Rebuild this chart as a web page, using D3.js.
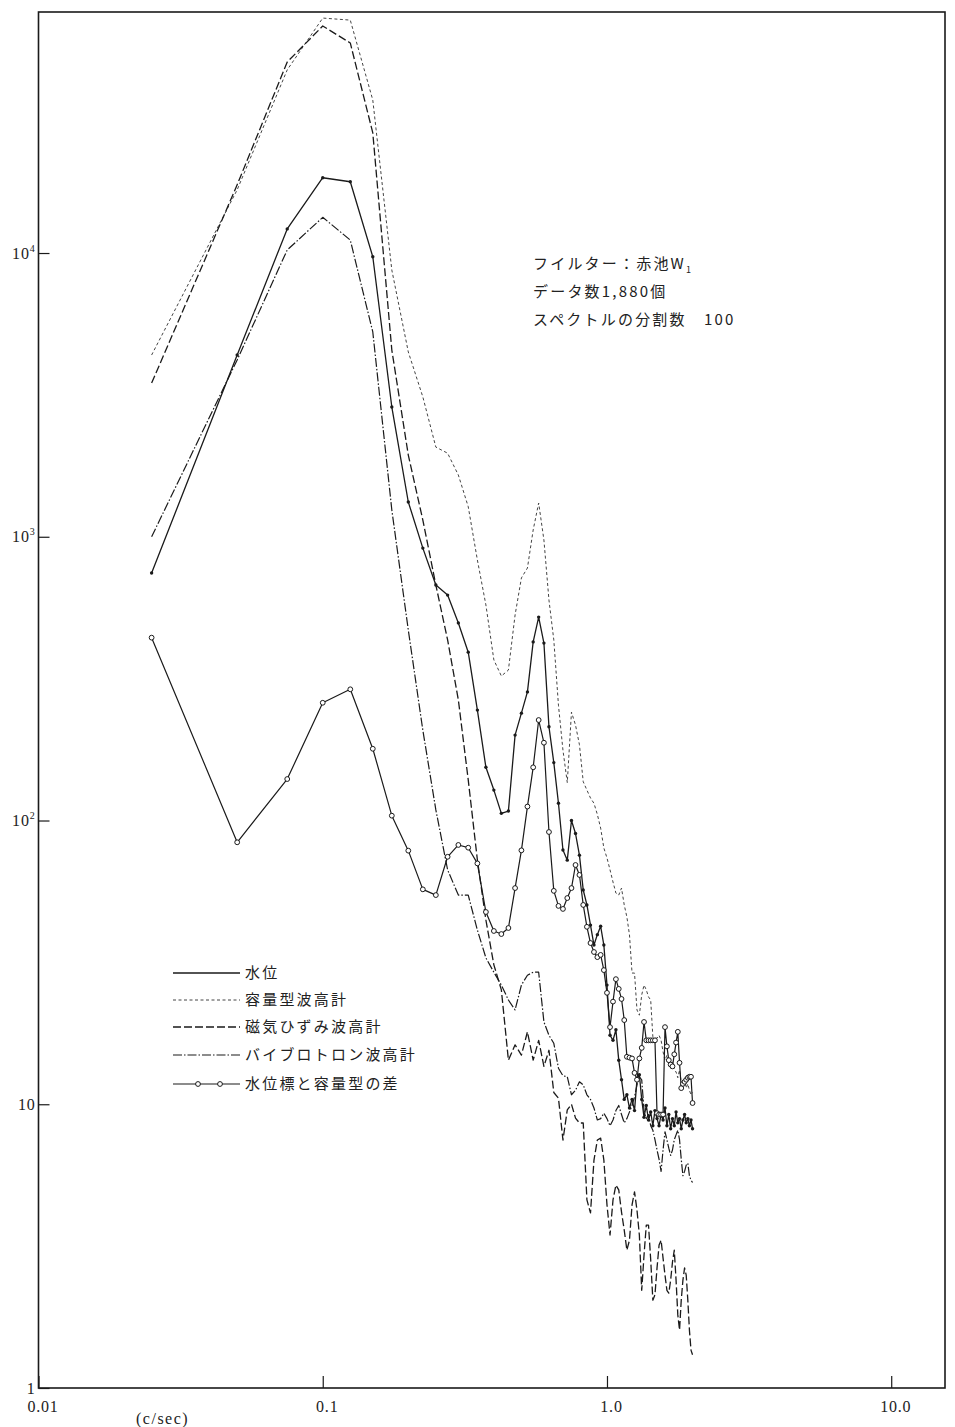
<!DOCTYPE html>
<html>
<head>
<meta charset="utf-8">
<script src="https://cdnjs.cloudflare.com/ajax/libs/d3/7.8.5/d3.min.js"></script>
<style>
  body { margin: 0; background: #fff; }
  .num { font-family: "Liberation Serif", "DejaVu Serif", serif; font-size: 16px; fill: #222; letter-spacing: 0.8px; }
  .jp { font-family: "Noto Sans CJK JP", sans-serif; font-size: 15px; fill: #222; letter-spacing: 2.2px; }
</style>
</head>
<body>
<div id="chart"></div>
<script>
// frequency (c/sec), 100 lags, step 0.025
const freq = [
  0.025, 0.05, 0.075, 0.1, 0.125, 0.15, 0.175, 0.2, 0.225, 0.25,
  0.275, 0.3, 0.325, 0.35, 0.375, 0.4, 0.425, 0.45, 0.475, 0.5,
  0.525, 0.55, 0.575, 0.6, 0.625, 0.65, 0.675, 0.7, 0.725, 0.75,
  0.775, 0.8, 0.825, 0.85, 0.875, 0.9, 0.925, 0.95, 0.975, 1.0,
  1.025, 1.05, 1.075, 1.1, 1.125, 1.15, 1.175, 1.2, 1.225, 1.25,
  1.275, 1.3, 1.325, 1.35, 1.375, 1.4, 1.425, 1.45, 1.475, 1.5,
  1.525, 1.55, 1.575, 1.6, 1.625, 1.65, 1.675, 1.7, 1.725, 1.75,
  1.775, 1.8, 1.825, 1.85, 1.875, 1.9, 1.925, 1.95, 1.975, 2.0
];

// 水位
const suii = [
  745, 4370, 12160, 18420, 17830, 9700, 2866, 1326, 912, 676,
  623, 497, 392, 245, 154, 128, 106, 108, 200, 239,
  284, 426, 521, 422, 214, 160, 115, 78.7, 72.5, 100,
  90, 75.5, 56.9, 50.4, 42.8, 36.4, 39.6, 42.4, 36.4, 26.3,
  17.5, 16.8, 18.3, 14.3, 12.2, 10.4, 10.8, 9.7, 10.4, 9.5,
  12.2, 12.7, 10.4, 9.0, 9.9, 8.8, 9.4, 8.4, 9.5, 8.9,
  8.4, 9.2, 8.8, 9.7, 8.4, 9.2, 8.2, 8.9, 8.4, 9.4,
  8.6, 8.9, 8.2, 8.8, 9.2, 8.6, 8.9, 8.4, 8.8, 8.2
];

// 容量型波高計
const youryou = [
  4370, 16700, 44200, 67300, 66200, 34600, 8710, 4480, 3110, 2070,
  1970, 1650, 1276, 828, 575, 368, 323, 339, 530, 716,
  776, 1057, 1315, 974, 598, 433, 255, 177, 136, 241,
  217, 185, 137, 128, 120, 115, 105, 94, 80, 73.8,
  67, 60.7, 55.5, 54.6, 57.8, 50.4, 45.7, 39.5, 29, 29,
  21.5, 20.6, 24.3, 26.3, 25.3, 23.9, 23.3, 17.3, 17.1, 17.1,
  17.5, 16.8, 15.3, 14.3, 14.9, 14.1, 13.4, 14.1, 13.2, 13,
  12.4, 13.2, 12, 11.7, 12.4, 11.4, 11.8, 11.2, 10.8, 11
];

// 磁気ひずみ波高計
const jiki = [
  3480, 17400, 47100, 63100, 55000, 26500, 4550, 1940, 1145, 676,
  433, 266, 139, 72.6, 44.6, 31, 25.3, 14.3, 16.2, 14.9,
  18, 14.3, 16.8, 13.6, 15.5, 11, 10.5, 7.48, 9.55, 10,
  8.94, 8.59, 8.59, 4.6, 4.14, 6.36, 7.48, 7.6, 6.36, 4.42,
  3.46, 4.6, 5.19, 4.99, 4.17, 3.6, 3.06, 3.32, 4.42, 4.91,
  4.24, 3.46, 2.21, 2.94, 3.75, 3.75, 2.83, 2.04, 2.13, 2.65,
  3.19, 3.32, 2.87, 2.5, 2.21, 2.16, 2.4, 2.78, 3.06, 2.4,
  1.81, 1.6, 2.04, 2.4, 2.65, 2.5, 2.04, 1.6, 1.36, 1.31
];

// バイブロトロン波高計
const vibro = [
  1000, 4200, 10250, 13360, 11110, 5270, 1243, 469, 208, 109,
  67, 54.6, 54.6, 41.1, 32.8, 29.2, 26.3, 23.3, 21.5, 26.3,
  28.5, 29.2, 29.2, 19.5, 17.5, 16.4, 13.4, 12.6, 12.5, 10.8,
  11.2, 12, 11.7, 10.8, 10.4, 9.7, 8.8, 8.9, 9.3, 8.9,
  8.4, 8.8, 9.5, 9.9, 9.2, 8.6, 8.9, 9.4, 9.9, 10.6,
  11.7, 12.5, 12.2, 9.5, 8.9, 9.2, 8.4, 8.1, 7.5, 6.9,
  6.4, 5.8, 6.9, 8.0, 7.5, 7.0, 6.6, 6.9, 7.5, 7.8,
  8.1, 7.5, 6.4, 5.6, 5.8, 6.1, 6.2, 5.6, 5.4, 5.3
];

// 水位標と容量型の差
const sa = [
  441, 83.8, 140, 260, 290, 179, 104, 78.3, 57.2, 54.6,
  74.5, 82, 80.2, 70.6, 47.6, 40.8, 39.8, 41.8, 57.8, 78.5,
  112, 154, 226, 188, 91.1, 56.5, 50, 48.8, 53.3, 57.8,
  69.7, 64.3, 50.4, 42.2, 37, 34.4, 33, 33.6, 29.7, 24.7,
  18.7, 23, 27.6, 25.5, 23.5, 19.8, 14.7, 14.6, 14.5, 12.9,
  12.2, 14.5, 15.8, 19.5, 16.8, 16.8, 16.8, 16.8, 16.8, 9.3,
  9.2, 9.2, 9.2, 18.7, 16, 14.3, 13.8, 13.6, 15, 16.5,
  18, 14, 11.4, 11.8, 12, 12.2, 12.4, 12.5, 12.5, 10.1
];

const xTicks = [0.01, 0.1, 1, 10];
const xTickLabels = ["0.01", "0.1", "1.0", "10.0"];
const yTicks = [1, 10, 100, 1000, 10000];
const yTickExp = ["", "", "2", "3", "4"];
const yTickBase = ["1", "10", "10", "10", "10"];

const legendLabels = ["水位", "容量型波高計", "磁気ひずみ波高計", "バイブロトロン波高計", "水位標と容量型の差"];
const noteLines = ["フイルター：赤池W", "データ数1,880個", "スペクトルの分割数　100"];

const width = 955, height = 1427;
const plot = { left: 38.5, right: 945, top: 12, bottom: 1388 };

const x = d3.scaleLog().domain([0.01, 15.46]).range([plot.left, plot.right]);
const y = d3.scaleLog().domain([1, 70700]).range([plot.bottom, plot.top]);

const svg = d3.select("#chart")
  .append("svg")
  .attr("width", width)
  .attr("height", height)
  .style("background", "#fff");

// series styles
const series = [
  { name: legendLabels[0], values: suii, dash: null, width: 1.3, color: "#1a1a1a", marker: "dot" },
  { name: legendLabels[1], values: youryou, dash: "3,2.5", width: 1, color: "#444", marker: null },
  { name: legendLabels[2], values: jiki, dash: "8,3", width: 1.3, color: "#1a1a1a", marker: null },
  { name: legendLabels[3], values: vibro, dash: "9,2,1.5,2", width: 1.2, color: "#1a1a1a", marker: null },
  { name: legendLabels[4], values: sa, dash: null, width: 1.2, color: "#1a1a1a", marker: "circle" }
];

const line = d3.line()
  .x(d => x(d[0]))
  .y(d => y(d[1]));

series.forEach(s => {
  const pts = freq.map((f, i) => [f, s.values[i]]);
  svg.append("path")
    .datum(pts)
    .attr("d", line)
    .attr("fill", "none")
    .attr("stroke", s.color)
    .attr("stroke-width", s.width)
    .attr("stroke-dasharray", s.dash)
    .attr("stroke-linejoin", "round");

  if (s.marker === "dot") {
    svg.append("g").selectAll("circle")
      .data(pts)
      .enter()
      .append("circle")
      .attr("cx", d => x(d[0]))
      .attr("cy", d => y(d[1]))
      .attr("r", 1.7)
      .attr("fill", "#1a1a1a");
  }
  if (s.marker === "circle") {
    svg.append("g").selectAll("circle")
      .data(pts)
      .enter()
      .append("circle")
      .attr("cx", d => x(d[0]))
      .attr("cy", d => y(d[1]))
      .attr("r", 2.4)
      .attr("fill", "#fff")
      .attr("stroke", "#1a1a1a")
      .attr("stroke-width", 1);
  }
});

// frame
svg.append("rect")
  .attr("x", plot.left)
  .attr("y", plot.top)
  .attr("width", plot.right - plot.left)
  .attr("height", plot.bottom - plot.top)
  .attr("fill", "none")
  .attr("stroke", "#1a1a1a")
  .attr("stroke-width", 1.6);

// x axis
const xAxis = d3.axisBottom(x)
  .tickValues(xTicks)
  .tickFormat((d, i) => xTickLabels[i])
  .tickSize(-12)
  .tickPadding(13);

const gx = svg.append("g")
  .attr("transform", `translate(0, ${plot.bottom})`)
  .call(xAxis);
gx.select(".domain").remove();
gx.selectAll("line").attr("stroke", "#1a1a1a").attr("stroke-width", 1.2);
gx.selectAll("text")
  .attr("class", "num")
  .attr("dx", 4);

// y axis
const yAxis = d3.axisLeft(y)
  .tickValues(yTicks)
  .tickSize(-11)
  .tickPadding(3);

const gy = svg.append("g")
  .attr("transform", `translate(${plot.left}, 0)`)
  .call(yAxis);
gy.select(".domain").remove();
gy.selectAll("line").attr("stroke", "#1a1a1a").attr("stroke-width", 1.2);
gy.selectAll("text")
  .attr("class", "num")
  .each(function(d, i) {
    const t = d3.select(this);
    t.text(null);
    t.append("tspan").text(yTickBase[i]);
    if (yTickExp[i]) {
      t.append("tspan")
        .attr("dy", -7)
        .style("font-size", "10px")
        .text(yTickExp[i]);
    }
  });

// unit
svg.append("text")
  .attr("class", "num")
  .attr("x", 136)
  .attr("y", 1424)
  .style("letter-spacing", "1.5px")
  .text("(c/sec)");

// note
const note = svg.append("g").attr("transform", "translate(533, 0)");
noteLines.forEach((t, i) => {
  const tx = note.append("text")
    .attr("class", "jp")
    .attr("x", 0)
    .attr("y", 269 + i * 28)
    .text(t);
  if (i === 0) {
    tx.append("tspan")
      .attr("dy", 4)
      .style("font-size", "9px")
      .text("1");
  }
});

// legend
const legend = svg.append("g").attr("transform", "translate(173, 973)");
const rowY = [0, 27, 54, 82, 111];
series.forEach((s, i) => {
  const row = legend.append("g").attr("transform", `translate(0, ${rowY[i]})`);
  row.append("line")
    .attr("x1", 0).attr("x2", 67)
    .attr("y1", 0).attr("y2", 0)
    .attr("stroke", s.color)
    .attr("stroke-width", s.width)
    .attr("stroke-dasharray", s.dash);
  if (s.marker === "circle") {
    row.selectAll("circle")
      .data([25, 47])
      .enter()
      .append("circle")
      .attr("cx", d => d)
      .attr("cy", 0)
      .attr("r", 2.4)
      .attr("fill", "#fff")
      .attr("stroke", "#1a1a1a");
  }
  row.append("text")
    .attr("class", "jp")
    .attr("x", 72)
    .attr("y", 5)
    .text(s.name);
});
</script>
</body>
</html>
